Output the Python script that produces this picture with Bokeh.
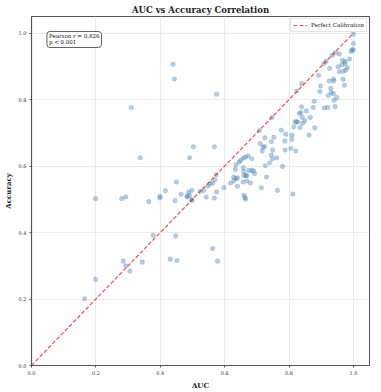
from bokeh.plotting import figure
from bokeh.models import Label, FixedTicker, Range1d, NumeralTickFormatter, ColumnDataSource
from bokeh.embed import file_html
from bokeh.resources import INLINE

auc = [0.165, 0.199, 0.199, 0.280, 0.293, 0.285, 0.293, 0.306, 0.344, 0.378,
       0.431, 0.448, 0.452, 0.563, 0.578, 0.364, 0.399, 0.399, 0.446, 0.484,
       0.498, 0.543, 0.568, 0.444, 0.440, 0.575, 0.310, 0.503, 0.568, 0.338,
       0.491, 0.450, 0.416, 0.465, 0.483, 0.491, 0.488, 0.498, 0.498, 0.524,
       0.535, 0.548, 0.555, 0.563, 0.570, 0.575, 0.573, 0.598, 0.618, 0.628,
       0.628, 0.635, 0.640, 0.640, 0.633, 0.635, 0.645, 0.650, 0.658, 0.665,
       0.673, 0.684, 0.658, 0.659, 0.675, 0.667, 0.657, 0.669, 0.684, 0.693,
       0.660, 0.663, 0.665, 0.680, 0.660, 0.668, 0.730, 0.714, 0.764, 0.812,
       0.690,
       1.000, 1.000, 0.996, 1.000, 0.993, 0.988, 0.974, 0.966, 0.964, 0.974,
       0.956, 0.944, 0.934, 0.915, 0.908, 0.926, 0.953, 0.956, 0.968, 0.976,
       0.981, 0.892, 0.938, 0.939, 0.925, 0.968, 0.972, 0.898, 0.839, 0.824,
       0.896, 0.930, 0.931, 0.938, 0.922, 0.948, 0.940, 0.878, 0.943, 0.920,
       0.910, 0.875, 0.839, 0.854, 0.837, 0.832, 0.866, 0.841, 0.849, 0.842,
       0.819, 0.823, 0.827, 0.815, 0.834, 0.880, 0.747, 0.708, 0.776, 0.790,
       0.809, 0.862, 0.725, 0.753, 0.745, 0.787, 0.809, 0.710, 0.724, 0.719,
       0.749, 0.788, 0.717, 0.806, 0.821, 0.745, 0.749, 0.762, 0.726, 0.740,
       0.780]
accuracy = [0.201, 0.259, 0.502, 0.502, 0.507, 0.314, 0.300, 0.284, 0.311, 0.392,
            0.320, 0.390, 0.316, 0.352, 0.314, 0.493, 0.504, 0.509, 0.496, 0.507,
            0.499, 0.507, 0.504, 0.862, 0.906, 0.816, 0.776, 0.658, 0.658, 0.625,
            0.625, 0.552, 0.526, 0.515, 0.510, 0.512, 0.522, 0.527, 0.497, 0.524,
            0.527, 0.540, 0.547, 0.549, 0.559, 0.522, 0.574, 0.535, 0.549, 0.567,
            0.555, 0.562, 0.564, 0.539, 0.590, 0.604, 0.612, 0.617, 0.624, 0.627,
            0.631, 0.622, 0.595, 0.584, 0.587, 0.571, 0.552, 0.555, 0.587, 0.577,
            0.512, 0.505, 0.500, 0.549, 0.572, 0.572, 0.567, 0.535, 0.527, 0.516,
            0.585,
            0.997, 0.969, 0.950, 0.950, 0.945, 0.922, 0.915, 0.918, 0.905, 0.908,
            0.937, 0.941, 0.933, 0.915, 0.908, 0.894, 0.899, 0.884, 0.885, 0.888,
            0.896, 0.873, 0.862, 0.856, 0.856, 0.861, 0.843, 0.841, 0.848, 0.826,
            0.824, 0.834, 0.821, 0.818, 0.812, 0.806, 0.798, 0.795, 0.779, 0.776,
            0.775, 0.776, 0.778, 0.766, 0.761, 0.758, 0.746, 0.747, 0.736, 0.729,
            0.733, 0.733, 0.733, 0.718, 0.716, 0.715, 0.746, 0.707, 0.708, 0.696,
            0.693, 0.693, 0.685, 0.687, 0.673, 0.675, 0.680, 0.668, 0.659, 0.657,
            0.648, 0.648, 0.645, 0.653, 0.645, 0.633, 0.622, 0.625, 0.601, 0.610,
            0.599]

calib_x = [0.0, 1.0]
calib_y = [0.0, 1.0]
ticks = [0.0, 0.2, 0.4, 0.6, 0.8, 1.0]
pearson_text = "Pearson r = 0.826\np < 0.001"

FONT = "DejaVu Serif"

p = figure(width=373, frame_height=349, output_backend="svg", toolbar_location=None,
           x_range=Range1d(0, 1.05), y_range=Range1d(0, 1.05),
           title="AUC vs Accuracy Correlation",
           min_border_right=4, min_border_top=0, min_border_bottom=0, min_border_left=0)

p.title.align = "center"
p.title.text_font = FONT
p.title.text_font_size = "8.5px"
p.title.text_font_style = "bold"
p.title.text_color = "#222222"
p.title.offset = 0
p.title.standoff = 4

src = ColumnDataSource(dict(x=auc, y=accuracy))
p.scatter("x", "y", source=src, size=4.6, fill_color="#4682b4", fill_alpha=0.4,
          line_color="#4682b4", line_alpha=0.3, line_width=0.6)

p.line(calib_x, calib_y, line_color="red", line_dash="4 2", line_width=1.2,
       line_alpha=0.7, legend_label="Perfect Calibration")

for ax in (p.xaxis[0], p.yaxis[0]):
    ax.ticker = FixedTicker(ticks=ticks)
    ax.formatter = NumeralTickFormatter(format="0.0")
    ax.major_label_text_font = FONT
    ax.major_label_text_font_size = "5px"
    ax.major_label_text_color = "#333333"
    ax.axis_label_text_font = FONT
    ax.axis_label_text_font_size = "7px"
    ax.axis_label_text_font_style = "bold"
    ax.axis_label_text_color = "#222222"
    ax.axis_line_color = "#555555"
    ax.axis_line_width = 1.2
    ax.major_tick_line_color = "#555555"
    ax.major_tick_in = 0
    ax.major_tick_out = 2
    ax.minor_tick_line_color = None
    ax.major_label_standoff = 3
    ax.axis_label_standoff = 3

p.xaxis.axis_label = "AUC"
p.yaxis.axis_label = "Accuracy"

p.xgrid.ticker = FixedTicker(ticks=ticks)
p.ygrid.ticker = FixedTicker(ticks=ticks)
p.grid.grid_line_color = "#e6e6e6"
p.grid.grid_line_width = 0.8

p.outline_line_color = "#555555"
p.outline_line_width = 1

p.legend.location = "top_right"
p.legend.label_text_font = FONT
p.legend.label_text_font_size = "5.5px"
p.legend.label_text_color = "#222222"
p.legend.glyph_width = 14
p.legend.glyph_height = 8
p.legend.label_height = 8
p.legend.label_standoff = 4
p.legend.padding = 2
p.legend.spacing = 0
p.legend.margin = 2
p.legend.border_line_color = "#cccccc"
p.legend.border_line_width = 0.8
p.legend.background_fill_alpha = 0.9

lab = Label(x=0.048, y=1.005, text=pearson_text, anchor="top_left",
            text_font=FONT, text_font_size="5.5px", text_color="#111111",
            padding=2, border_radius=3, border_line_color="#333333",
            border_line_width=0.8, background_fill_color="white",
            background_fill_alpha=0.9, text_line_height=1.0)
p.add_layout(lab)

open("out.html", "w").write(file_html(p, INLINE))
